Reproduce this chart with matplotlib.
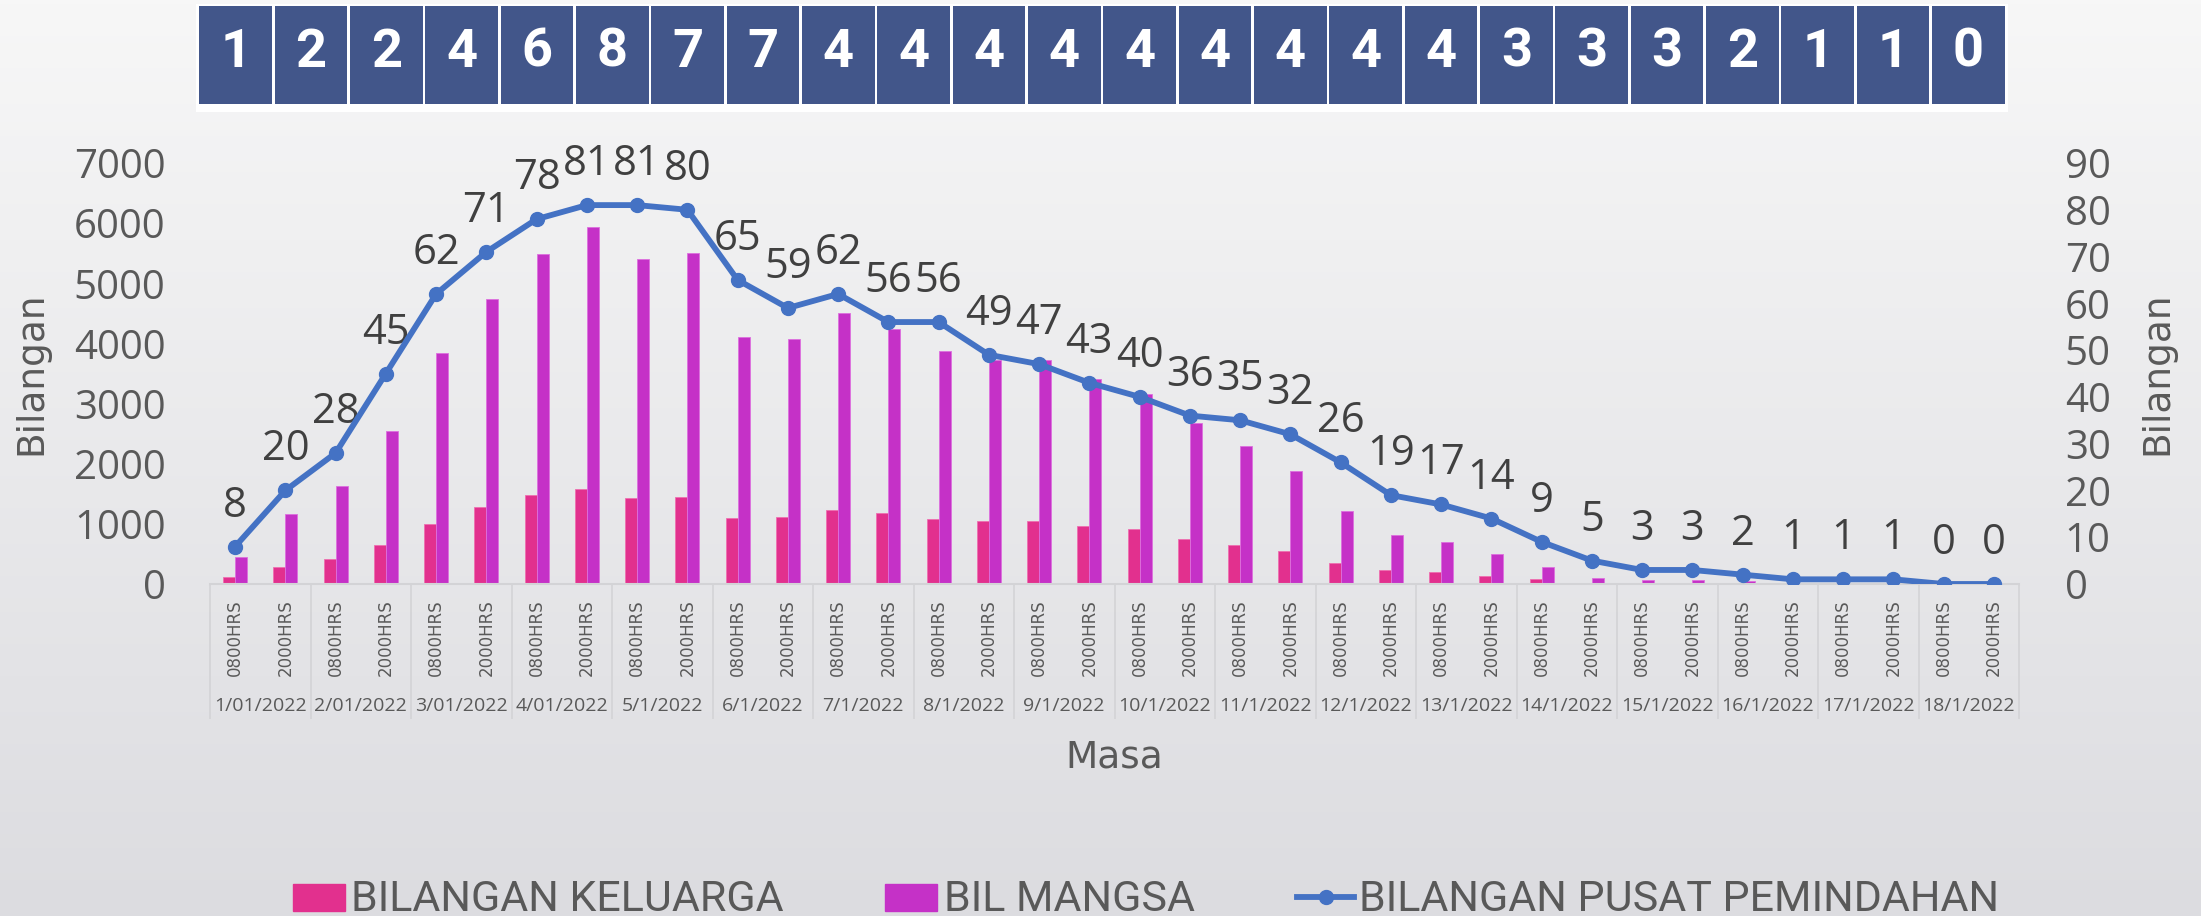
import numpy as np
import matplotlib
matplotlib.use('Agg')
import matplotlib.pyplot as plt
from matplotlib import font_manager as fm
from matplotlib.patches import Rectangle
from matplotlib.lines import Line2D

# data
dates = ['1/01/2022', '2/01/2022', '3/01/2022', '4/01/2022', '5/1/2022', '6/1/2022',
         '7/1/2022', '8/1/2022', '9/1/2022', '10/1/2022', '11/1/2022', '12/1/2022',
         '13/1/2022', '14/1/2022', '15/1/2022', '16/1/2022', '17/1/2022', '18/1/2022']
shifts = ['0800HRS', '2000HRS']

keluarga = [121, 288, 416, 643, 998, 1275, 1475, 1580, 1425, 1447, 1103, 1109,
            1231, 1181, 1081, 1053, 1053, 964, 909, 748, 648, 543, 343, 233,
            194, 139, 78, 15, 10, 8, 8, 3, 0, 0, 0, 0]
mangsa = [454, 1159, 1635, 2550, 3847, 4745, 5488, 5937, 5410, 5499, 4102, 4069,
          4507, 4241, 3880, 3725, 3720, 3404, 3160, 2677, 2300, 1874, 1219, 815,
          698, 493, 288, 94, 67, 60, 45, 12, 0, 0, 0, 0]
pusat = [8, 20, 28, 45, 62, 71, 78, 81, 81, 80, 65, 59, 62, 56, 56, 49, 47, 43,
         40, 36, 35, 32, 26, 19, 17, 14, 9, 5, 3, 3, 2, 1, 1, 1, 0, 0]

top_counts = [1, 2, 2, 4, 6, 8, 7, 7, 4, 4, 4, 4, 4, 4, 4, 4, 4, 3, 3, 3, 2, 1, 1, 0]

names = {f.name for f in fm.fontManager.ttflist}
NARROW = 'Liberation Sans Narrow' if 'Liberation Sans Narrow' in names else 'Roboto'
NUM = ['Open Sans', 'DejaVu Sans']
GREY = '#595959'
PINK = '#E2308E'
MAGENTA = '#C531C7'
BLUE = '#4472C4'
BOX = '#42568A'

W, H = 2201, 916
fig = plt.figure(figsize=(W / 100, H / 100), dpi=100)

# background gradient
bg = fig.add_axes([0, 0, 1, 1], zorder=-10)
grad = np.linspace(0, 1, 256).reshape(-1, 1)
c0 = np.array([0xf7, 0xf7, 0xf7]) / 255
c1 = np.array([0xdc, 0xdc, 0xe0]) / 255
img = c0 + (c1 - c0) * grad[:, :, None]
bg.imshow(img, aspect='auto', extent=[0, 1, 0, 1])
bg.axis('off')

# top strip with counts
tb = fig.add_axes([196 / W, 1 - 112 / H, 1812 / W, 108 / H])
tb.set_facecolor('white')
tb.bar(np.arange(len(top_counts)) + 0.5, 0.907, bottom=0.074, width=0.965, color=BOX)
for i, v in enumerate(top_counts):
    tb.text(i + 0.5, 0.4167, str(v), ha='center', va='baseline', color='white',
            fontsize=39, fontweight='bold', family=[NARROW, 'DejaVu Sans'])
tb.set_xlim(-2 / 75.33, len(top_counts) + 2 / 75.33)
tb.set_ylim(0, 1)
tb.set_xticks([])
tb.set_yticks([])
for s in tb.spines.values():
    s.set_visible(False)

# main axes
ax = fig.add_axes([210 / W, 1 - 584 / H, 1809 / W, 421 / H])
ax.set_facecolor('none')
x = np.arange(len(pusat))
bw = 0.24
ax.bar(x - bw / 2, keluarga, width=bw, color=PINK, edgecolor='#ee6fb0', linewidth=0.6)
ax.bar(x + bw / 2, mangsa, width=bw, color=MAGENTA, edgecolor='#dd6fde', linewidth=0.6)
ax.set_xlim(-0.5, len(pusat) - 0.5)
ax.set_ylim(0, 7000)
ax.set_yticks(range(0, 7001, 1000))
ax.tick_params(axis='y', length=0, pad=32, labelsize=29, labelcolor=GREY)
for t in ax.get_yticklabels():
    t.set_family(NUM)

labels = [s for d in dates for s in shifts]
ax.set_xticks(x)
ax.set_xticklabels(labels, rotation=90, fontsize=12, color=GREY, family='DejaVu Sans')
ax.tick_params(axis='x', length=0, pad=11)
for s in ['top', 'left', 'right']:
    ax.spines[s].set_visible(False)
ax.spines['bottom'].set_color('#d3d3d6')
ax.spines['bottom'].set_linewidth(1.5)

# date group labels and separators
trans = ax.get_xaxis_transform()
for i, d in enumerate(dates):
    ax.text(2 * i + 0.5, -0.2897, d, transform=trans, ha='center', va='center',
            fontsize=14, color=GREY, family=NUM)
ax.vlines(np.arange(-0.5, len(pusat), 2), -0.3206, 0, transform=trans,
          colors='#d3d3d6', linewidth=1.2, clip_on=False)

ax.set_ylabel('Bilangan', fontsize=27, color=GREY, family='DejaVu Sans', va='center', ha='center')
ax.yaxis.set_label_coords(-0.0987, 0.5)

# line on secondary axis
ax2 = ax.twinx()
ax2.set_facecolor('none')
ax2.plot(x, pusat, color=BLUE, linewidth=4.2, marker='o', markersize=10, zorder=5)
ax2.set_ylim(0, 90)
ax2.set_yticks(range(0, 91, 10))
ax2.tick_params(axis='y', length=0, pad=33, labelsize=29, labelcolor=GREY)
for t in ax2.get_yticklabels():
    t.set_family(NUM)
for s in ax2.spines.values():
    s.set_visible(False)
for xi, v in zip(x, pusat):
    ax2.annotate(str(v), (xi, v), xytext=(0, 30), textcoords='offset pixels',
                 ha='center', va='baseline', fontsize=30, color='#404040', family=NUM)
ax2.set_ylabel('Bilangan', fontsize=27, color=GREY, family='DejaVu Sans', va='center',
               ha='center', rotation=90)
ax2.yaxis.set_label_coords(1.0763, 0.5)

fig.text(1114 / W, 1 - 758 / H, 'Masa', ha='center', va='center', fontsize=27,
         color=GREY, family='DejaVu Sans')

# legend drawn along the bottom
leg_font = dict(fontsize=31, color=GREY, family=[NARROW, 'DejaVu Sans'], va='baseline', ha='left')
fig.add_artist(Rectangle((293 / W, 1 - 911 / H), 52 / W, 27 / H, transform=fig.transFigure,
                         color=PINK))
fig.text(351 / W, 1 - 911 / H, 'BILANGAN KELUARGA', **leg_font)
fig.add_artist(Rectangle((885 / W, 1 - 911 / H), 52 / W, 27 / H, transform=fig.transFigure,
                         color=MAGENTA))
fig.text(944 / W, 1 - 911 / H, 'BIL MANGSA', **leg_font)
fig.add_artist(Line2D([1297 / W, 1354 / W], [1 - 897 / H, 1 - 897 / H], transform=fig.transFigure,
                      color=BLUE, linewidth=4.2))
fig.add_artist(Line2D([1325.5 / W], [1 - 897 / H], transform=fig.transFigure, color=BLUE,
                      marker='o', markersize=10))
fig.text(1359 / W, 1 - 911 / H, 'BILANGAN PUSAT PEMINDAHAN', **leg_font)

fig.savefig('out.png', dpi=100)
